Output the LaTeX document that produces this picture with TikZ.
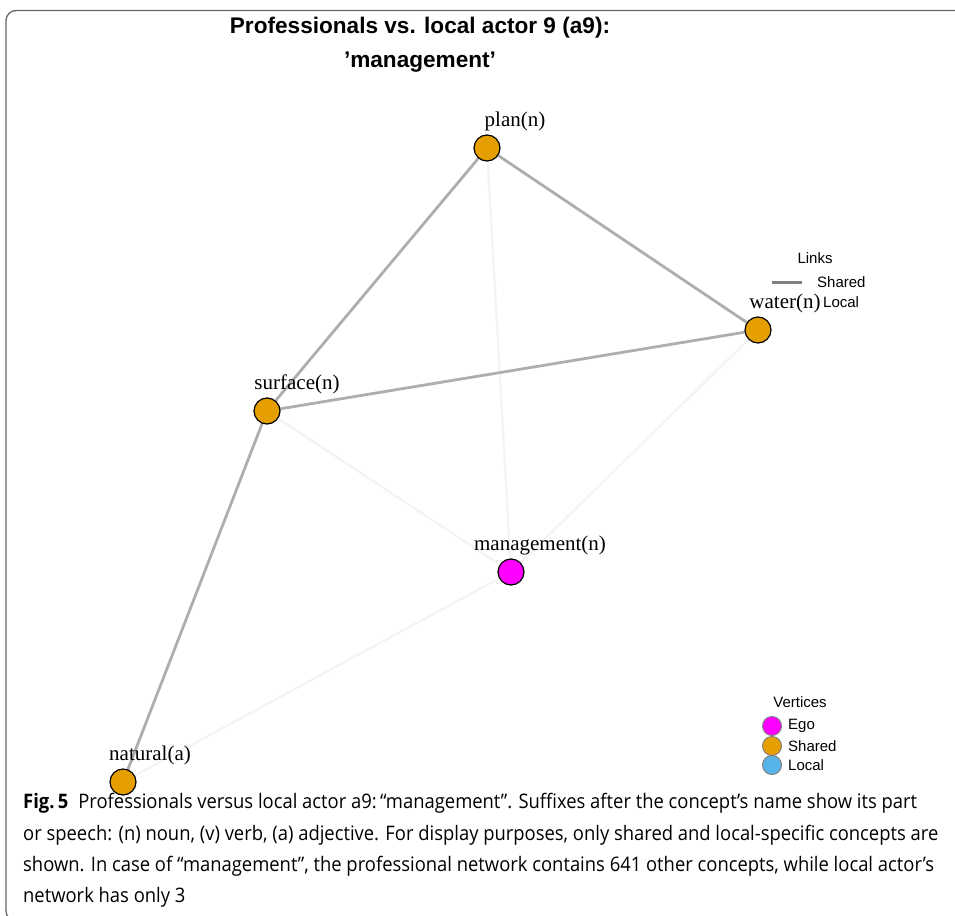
\documentclass[tikz,border=0pt]{standalone}
\usepackage{fontspec}
\setmainfont{Liberation Serif}
\newfontfamily\helv{Liberation Sans}
\newfontfamily\capfont[FakeStretch=0.92]{Open Sans}
\usetikzlibrary{calc}
\definecolor{shared}{HTML}{E69F00}
\definecolor{ego}{HTML}{FF00FF}
\definecolor{localc}{HTML}{56B4E9}
\definecolor{sharededge}{HTML}{AEAEAE}
\definecolor{localedge}{HTML}{F4F4F4}
\definecolor{framec}{HTML}{666666}
\tikzset{
  vtx/.style={circle,draw=black,line width=1.2pt,minimum size=26pt,inner sep=0pt},
  lvtx/.style={circle,draw=gray,line width=1pt,minimum size=19pt,inner sep=0pt},
  lab/.style={font=\fontsize{21}{21}\selectfont,inner sep=0pt,anchor=center},
  shedge/.style={draw=sharededge,line width=2.8pt},
  loedge/.style={draw=localedge,line width=2.4pt},
  legtxt/.style={font=\helv\fontsize{15}{15}\selectfont,inner sep=0pt},
  ttl/.style={font=\helv\bfseries\fontsize{22.6}{22.6}\selectfont,inner sep=0pt},
  capline/.style={font=\capfont\fontsize{20}{20}\selectfont,inner sep=0pt,anchor=base west},
}
\begin{document}
\begin{tikzpicture}[x=1pt,y=-1pt]
\useasboundingbox (0,0) rectangle (955,915);
\begin{scope}
\clip (0,0) rectangle (955,915);
\draw[framec,line width=1.3pt,rounded corners=10pt] (6,10.5) rectangle (990,921);
\end{scope}
% title
\node[ttl] (t1) at (420,28) {Professionals vs. local actor 9 (a9):};
\node[ttl] (t2) at (420,62) {’management’};
% vertices
\coordinate (cp) at (487,148);
\coordinate (cw) at (758,330);
\coordinate (cs) at (267,411);
\coordinate (cm) at (511,572);
\coordinate (cn) at (123,782);
% edges (drawn first)
\path[loedge] (cp) -- (cm);
\path[loedge] (cw) -- (cm);
\path[loedge] (cs) -- (cm);
\path[loedge] (cn) -- (cm);
\path[shedge] (cp) -- (cs);
\path[shedge] (cp) -- (cw);
\path[shedge] (cs) -- (cw);
\path[shedge] (cs) -- (cn);
\node[vtx,fill=shared] (plan) at (cp) {};
\node[vtx,fill=shared] (water) at (cw) {};
\node[vtx,fill=shared] (surface) at (cs) {};
\node[vtx,fill=ego] (mgmt) at (cm) {};
\node[vtx,fill=shared] (natural) at (cn) {};
\node[lab] (lplan) at ($(cp)+(28,-27)$) {plan(n)};
\node[lab] (lwater) at ($(cw)+(27,-27)$) {water(n)};
\node[lab] (lsurface) at ($(cs)+(30,-27)$) {surface(n)};
\node[lab] (lmgmt) at ($(cm)+(29,-27)$) {management(n)};
\node[lab] (lnatural) at ($(cn)+(27,-27)$) {natural(a)};
% links legend
\node[legtxt] (links) at (815,258) {Links};
\coordinate (ls1) at (772,282);
\coordinate (ls2) at (802,282);
\draw[draw=gray,line width=3pt] (ls1) -- (ls2);
\node[legtxt,anchor=west] (lsh) at (817,282) {Shared};
\node[legtxt,anchor=west] (llo) at (823,302) {Local};
% vertices legend
\node[legtxt] (vert) at (800,702) {Vertices};
\node[lvtx,fill=ego] (le) at (772,726) {};
\node[lvtx,fill=shared] (ls) at (772,746) {};
\node[lvtx,fill=localc] (ll) at (772,765) {};
\node[legtxt,anchor=west] (lte) at (788,726) {Ego};
\node[legtxt,anchor=west] (lts) at (788,746) {Shared};
\node[legtxt,anchor=west] (ltl) at (788,765) {Local};
% caption
\node[capline] (c1) at (23,808) {{\bfseries Fig.\,5}\enspace Professionals versus local actor a9:\,“management”. Suffixes after the concept’s name show its part};
\node[capline] (c2) at (23,840) {or speech: (n) noun, (v) verb, (a) adjective. For display purposes, only shared and local-specific concepts are};
\node[capline] (c3) at (23,871) {shown. In case of “management”, the professional network contains 641 other concepts, while local actor’s};
\node[capline] (c4) at (23,902) {network has only 3};
\end{tikzpicture}
\end{document}
